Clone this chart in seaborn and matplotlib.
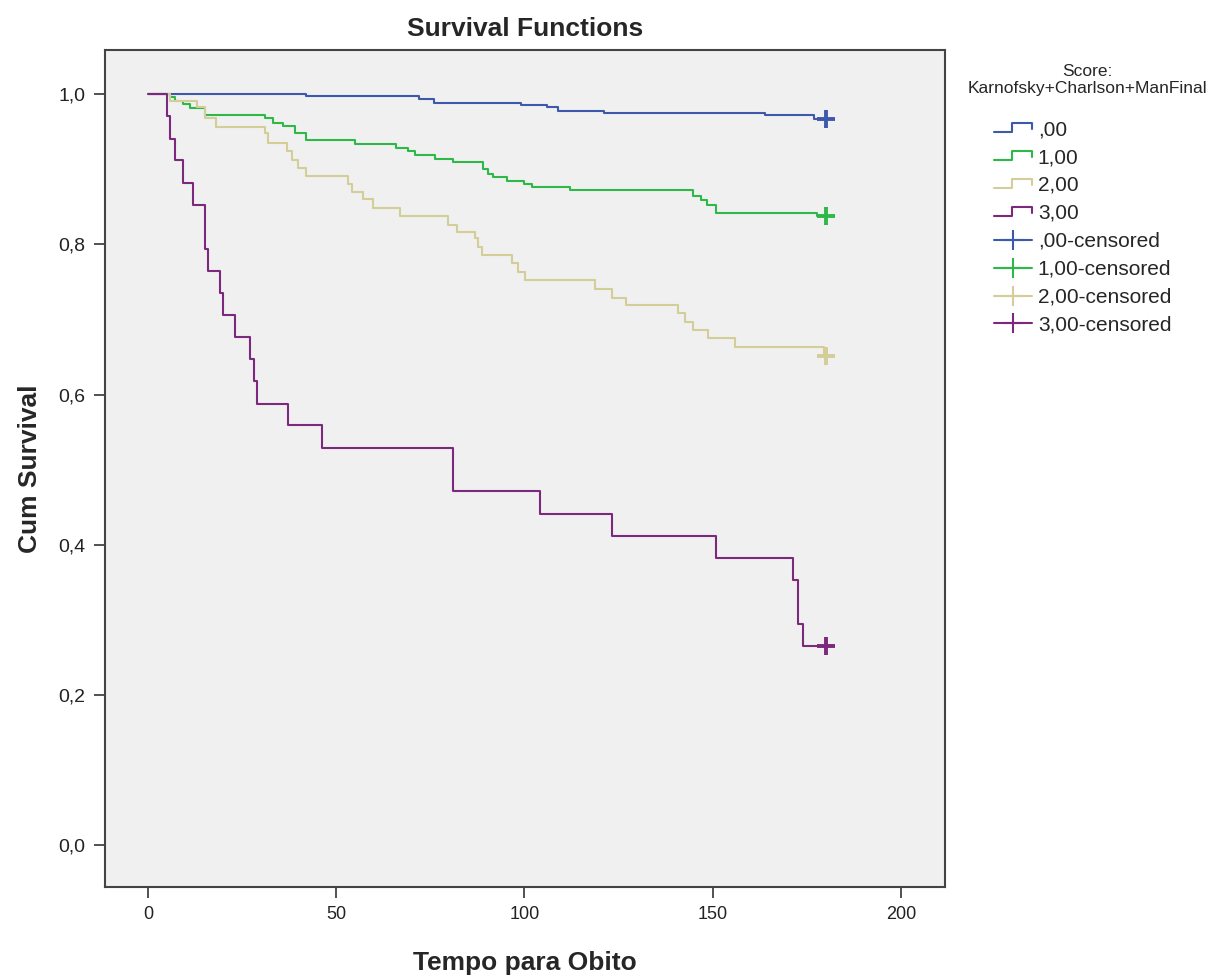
import numpy as np
import pandas as pd
import matplotlib
matplotlib.use("Agg")
import matplotlib.pyplot as plt
import seaborn as sns
from matplotlib.lines import Line2D
from matplotlib.legend_handler import HandlerBase

# Kaplan-Meier step values
groups = [",00", "1,00", "2,00", "3,00"]
colors = ["#3E58AC", "#2EB848", "#D3CE97", "#7C287D"]

t_00 = [0, 42, 72, 76, 99, 106, 109, 121, 164, 177, 180]
s_00 = [1.0, 0.998, 0.994, 0.988, 0.986, 0.983, 0.978, 0.975, 0.972, 0.967, 0.967]

t_10 = [0, 5.8, 7.2, 9.4, 11.2, 15.1, 31.1, 33.3, 35.9, 39, 42.1, 55, 66, 69.1,
        70.9, 76.2, 81.1, 89, 90.3, 91.7, 95.3, 100, 101.9, 112, 144.8, 147,
        148.4, 151, 177.6, 180]
s_10 = [1.0, 0.996, 0.991, 0.987, 0.982, 0.973, 0.968, 0.962, 0.958, 0.949,
        0.939, 0.934, 0.929, 0.924, 0.919, 0.914, 0.910, 0.901, 0.894, 0.890,
        0.885, 0.881, 0.877, 0.872, 0.865, 0.859, 0.852, 0.842, 0.838, 0.838]

t_20 = [0, 5.8, 12.9, 15.1, 18, 31.1, 32, 36.8, 38.2, 39.9, 41.9, 53.2, 54.1,
        57, 59.9, 66.9, 79.8, 82, 86.9, 87.7, 88.6, 96.6, 98.3, 100.1, 118.7,
        123.2, 127.1, 140.9, 142.6, 144.8, 148.8, 155.9, 179.5, 180]
s_20 = [1.0, 0.991, 0.983, 0.968, 0.957, 0.948, 0.935, 0.925, 0.913, 0.902,
        0.891, 0.881, 0.870, 0.860, 0.849, 0.838, 0.826, 0.817, 0.808, 0.797,
        0.786, 0.775, 0.763, 0.752, 0.740, 0.729, 0.719, 0.708, 0.697, 0.686,
        0.675, 0.664, 0.651, 0.651]

t_30 = [0, 5.0, 5.8, 7.2, 9.2, 12, 15.1, 16, 19.1, 20, 23.1, 27.1, 28.2, 29,
        37.1, 46.1, 81.1, 104, 123.2, 151, 171.2, 172.7, 173.9, 180]
s_30 = [1.0, 0.971, 0.941, 0.912, 0.882, 0.853, 0.794, 0.765, 0.735, 0.706,
        0.676, 0.647, 0.618, 0.588, 0.559, 0.529, 0.471, 0.441, 0.412, 0.382,
        0.353, 0.294, 0.265, 0.265]

censor_t = [180, 180, 180, 180]
censor_s = [0.967, 0.838, 0.651, 0.265]

x_ticks = [0, 50, 100, 150, 200]
y_ticks = [0.0, 0.2, 0.4, 0.6, 0.8, 1.0]

rows = []
for g, tt, ss in zip(groups, [t_00, t_10, t_20, t_30], [s_00, s_10, s_20, s_30]):
    for a, b in zip(tt, ss):
        rows.append((g, a, b))
df = pd.DataFrame(rows, columns=["grupo", "tempo", "surv"])
cens = pd.DataFrame({"grupo": groups, "tempo": censor_t, "surv": censor_s})

sns.set_style("white")
plt.rcParams["font.family"] = ["Liberation Sans", "DejaVu Sans"]

fig = plt.figure(figsize=(12.23, 9.8), dpi=100)
ax = fig.add_axes([0.0859, 0.0949, 0.6868, 0.8541])
ax.set_facecolor("#F0F0F0")

pal = dict(zip(groups, colors))
sns.lineplot(data=df, x="tempo", y="surv", hue="grupo", palette=pal,
             estimator=None, sort=False, drawstyle="steps-post", lw=1.5,
             legend=False, ax=ax)
sns.scatterplot(data=cens, x="tempo", y="surv", hue="grupo", palette=pal,
                marker="+", s=170, linewidth=2.8, legend=False, ax=ax, zorder=5)

ax.set_xlim(-11.4, 211.7)
ax.set_ylim(-0.056, 1.059)
ax.set_xticks(x_ticks)
ax.set_yticks(y_ticks)
ax.set_xticklabels([str(v) for v in x_ticks], fontsize=13)
ax.set_yticklabels([f"{v:.1f}".replace(".", ",") for v in y_ticks], fontsize=14)
ax.tick_params(axis="both", direction="out", length=8, width=1.2, color="#333333",
               labelcolor="#222222", pad=6, bottom=True, left=True)
for sp in ax.spines.values():
    sp.set_color("#444444")
    sp.set_linewidth(1.5)

ax.set_xlabel("Tempo para Obito", fontsize=19, fontweight="bold", labelpad=20)
ax.set_ylabel("Cum Survival", fontsize=19, fontweight="bold", labelpad=12)
ax.set_title("Survival Functions", fontsize=19, fontweight="bold", pad=10)


class StepHandler(HandlerBase):
    def create_artists(self, legend, orig_handle, xdescent, ydescent,
                       width, height, fontsize, trans):
        xs = np.array([0, 0.47, 0.47, 1.0, 1.0]) * width - xdescent
        ys = np.array([0.2, 0.2, 0.8, 0.8, 0.4]) * height - ydescent
        ln = Line2D(xs, ys, color=orig_handle.get_color(), lw=1.5)
        ln.set_transform(trans)
        return [ln]


step_handles = [Line2D([], [], color=c) for c in colors]
cens_handles = [Line2D([], [], color=c, lw=1.5, marker="+", markersize=15,
                       markeredgewidth=1.5) for c in colors]
labels = groups + [g + "-censored" for g in groups]
handler_map = {h: StepHandler() for h in step_handles}
leg = fig.legend(step_handles + cens_handles, labels, handler_map=handler_map,
                 loc="upper left", bbox_to_anchor=(0.806, 0.886), frameon=False,
                 fontsize=15, handlelength=1.8, handletextpad=0.3,
                 labelspacing=0.43, borderaxespad=0)
fig.text(0.889, 0.918, "Score:\nKarnofsky+Charlson+ManFinal", ha="center",
         va="center", fontsize=12.5, linespacing=1.15)

fig.savefig("out.png", dpi=100)
